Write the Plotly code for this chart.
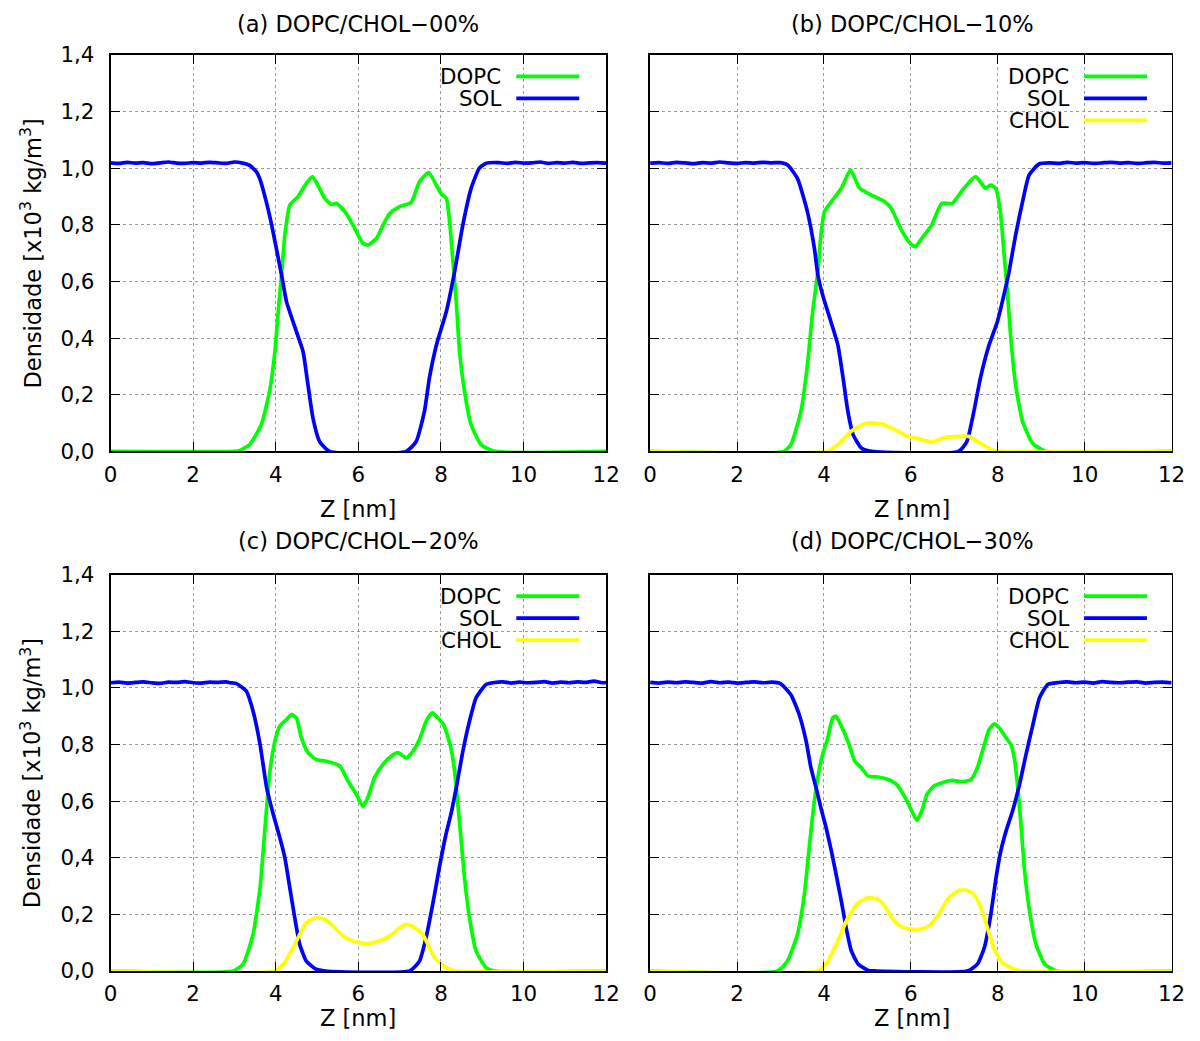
import plotly.graph_objects as go
from plotly.subplots import make_subplots

# ---------------- density profiles (Z in nm, density in 10^3 kg/m^3) ----------------
# (a) DOPC/CHOL-00%
Z_SOL_A = [0.0, 0.2, 0.4, 0.6, 0.8, 1.0, 1.2, 1.4, 1.6, 1.8, 2.0, 2.2, 2.4, 2.6, 2.8, 3.0, 3.2,
           3.37, 3.53, 3.61, 3.77, 3.90, 4.14, 4.26, 4.50, 4.66, 4.78, 4.90, 5.06, 5.30,
           7.16, 7.40, 7.60, 7.72, 7.89, 8.13, 8.33, 8.53, 8.73, 8.93, 9.10,
           9.4, 9.6, 9.8, 10.0, 10.2, 10.4, 10.6, 10.8, 11.0, 11.2, 11.4, 11.6, 11.8, 12.0]
SOL_A = [1.019, 1.017, 1.021, 1.018, 1.020, 1.016, 1.019, 1.022, 1.018, 1.017, 1.020, 1.018, 1.021, 1.019, 1.017, 1.022, 1.018,
         1.010, 0.988, 0.964, 0.882, 0.800, 0.623, 0.529, 0.423, 0.353, 0.235, 0.118, 0.035, 0.0,
         0.0, 0.035, 0.141, 0.259, 0.376, 0.494, 0.635, 0.800, 0.929, 1.000, 1.018,
         1.020, 1.017, 1.021, 1.018, 1.019, 1.022, 1.017, 1.020, 1.018, 1.021, 1.017, 1.019, 1.020, 1.018]
Z_DOPC_A = [0.0, 3.0, 3.13, 3.37, 3.65, 3.85, 3.98, 4.06, 4.14, 4.22, 4.34, 4.54, 4.74, 4.89, 5.02,
            5.19, 5.35, 5.47, 5.71, 5.91, 6.11, 6.23, 6.44, 6.60, 6.76, 7.0, 7.28, 7.48, 7.70, 7.89,
            8.0, 8.13, 8.21, 8.29, 8.37, 8.45, 8.57, 8.73, 8.97, 9.3, 12.0]
DOPC_A = [0.0, 0.0, 0.003, 0.024, 0.094, 0.212, 0.353, 0.494, 0.623, 0.764, 0.870, 0.900, 0.946, 0.970, 0.940,
          0.893, 0.872, 0.876, 0.840, 0.788, 0.735, 0.729, 0.752, 0.800, 0.840, 0.864, 0.880, 0.952, 0.985, 0.940,
          0.910, 0.893, 0.811, 0.670, 0.529, 0.353, 0.212, 0.094, 0.024, 0.0, 0.0]

# (b) DOPC/CHOL-10%
Z_SOL_B = [0.0, 0.2, 0.4, 0.6, 0.8, 1.0, 1.2, 1.4, 1.6, 1.8, 2.0, 2.2, 2.4, 2.6, 2.8, 3.0,
           3.16, 3.39, 3.62, 3.78, 3.86, 3.97, 4.16, 4.32, 4.44, 4.55, 4.67, 4.86, 5.10,
           7.10, 7.29, 7.45, 7.60, 7.80, 7.99, 8.14, 8.26, 8.41, 8.57, 8.72, 8.95,
           9.2, 9.4, 9.6, 9.8, 10.0, 10.2, 10.4, 10.6, 10.8, 11.0, 11.2, 11.4, 11.6, 11.8, 12.0]
SOL_B = [1.018, 1.020, 1.017, 1.021, 1.019, 1.016, 1.020, 1.018, 1.022, 1.019, 1.017, 1.020, 1.018, 1.021, 1.019, 1.020,
         1.012, 0.964, 0.846, 0.717, 0.623, 0.552, 0.458, 0.376, 0.259, 0.141, 0.059, 0.012, 0.0,
         0.0, 0.035, 0.141, 0.259, 0.376, 0.458, 0.552, 0.635, 0.764, 0.882, 0.976, 1.015,
         1.019, 1.017, 1.021, 1.018, 1.020, 1.017, 1.019, 1.021, 1.018, 1.020, 1.017, 1.019, 1.021, 1.018, 1.019]
Z_DOPC_B = [0.0, 3.08, 3.24, 3.47, 3.62, 3.74, 3.86, 3.93, 4.01, 4.20, 4.40, 4.61, 4.82, 5.09, 5.40,
            5.55, 5.78, 5.98, 6.10, 6.25, 6.48, 6.71, 6.95, 7.22, 7.49, 7.72, 7.83, 7.95, 8.06, 8.14,
            8.22, 8.30, 8.41, 8.57, 8.80, 9.10, 12.0]
DOPC_B = [0.0, 0.0, 0.024, 0.141, 0.306, 0.494, 0.635, 0.764, 0.846, 0.888, 0.929, 0.994, 0.929, 0.905, 0.882,
          0.858, 0.782, 0.735, 0.723, 0.752, 0.800, 0.876, 0.876, 0.929, 0.970, 0.929, 0.940, 0.929, 0.846, 0.705,
          0.564, 0.400, 0.235, 0.106, 0.029, 0.0, 0.0]
Z_CHOL_B = [0.0, 4.09, 4.32, 4.63, 4.98, 5.32, 5.63, 5.94, 6.17, 6.48, 6.79, 7.10, 7.33, 7.60, 7.87, 8.10, 12.0]
CHOL_B = [0.0, 0.0, 0.024, 0.071, 0.100, 0.097, 0.077, 0.053, 0.045, 0.033, 0.049, 0.053, 0.053, 0.029, 0.005, 0.0, 0.0]

# (c) DOPC/CHOL-20%
Z_SOL_C = [0.0, 0.2, 0.4, 0.6, 0.8, 1.0, 1.2, 1.4, 1.6, 1.8, 2.0, 2.2, 2.4, 2.6, 2.8, 2.9,
           3.05, 3.29, 3.45, 3.62, 3.78, 3.94, 4.10, 4.22, 4.34, 4.46, 4.58, 4.74, 4.98, 5.20,
           7.24, 7.48, 7.64, 7.80, 7.96, 8.12, 8.24, 8.37, 8.53, 8.69, 8.85, 9.09,
           9.3, 9.5, 9.7, 9.9, 10.1, 10.3, 10.5, 10.7, 10.9, 11.1, 11.3, 11.5, 11.7, 11.9, 12.0]
SOL_C = [1.018, 1.020, 1.017, 1.019, 1.021, 1.018, 1.016, 1.020, 1.019, 1.022, 1.018, 1.017, 1.020, 1.019, 1.021, 1.018,
         1.015, 0.988, 0.918, 0.800, 0.647, 0.553, 0.471, 0.400, 0.294, 0.188, 0.094, 0.035, 0.006, 0.0,
         0.0, 0.035, 0.118, 0.235, 0.365, 0.482, 0.553, 0.647, 0.776, 0.882, 0.965, 1.012,
         1.019, 1.021, 1.017, 1.020, 1.018, 1.019, 1.022, 1.017, 1.020, 1.018, 1.021, 1.019, 1.024, 1.018, 1.019]
Z_DOPC_C = [0.0, 2.97, 3.21, 3.45, 3.62, 3.74, 3.86, 3.98, 4.10, 4.26, 4.38, 4.50, 4.62, 4.78, 4.98,
            5.23, 5.55, 5.75, 5.95, 6.11, 6.23, 6.39, 6.59, 6.80, 6.96, 7.16, 7.32, 7.48, 7.64, 7.79,
            7.92, 8.08, 8.24, 8.33, 8.41, 8.49, 8.57, 8.69, 8.85, 9.09, 9.30, 12.0]
DOPC_C = [0.0, 0.0, 0.024, 0.129, 0.294, 0.506, 0.706, 0.812, 0.865, 0.888, 0.906, 0.894, 0.824, 0.771, 0.747,
          0.741, 0.724, 0.671, 0.624, 0.582, 0.612, 0.682, 0.729, 0.759, 0.771, 0.753, 0.776, 0.818, 0.882, 0.912,
          0.894, 0.865, 0.788, 0.706, 0.588, 0.459, 0.329, 0.188, 0.071, 0.012, 0.0, 0.0]
Z_CHOL_C = [0.0, 3.98, 4.18, 4.42, 4.58, 4.74, 4.98, 5.19, 5.39, 5.63, 5.88, 6.19, 6.51, 6.76, 7.00,
            7.16, 7.36, 7.56, 7.72, 7.88, 8.12, 8.37, 12.0]
CHOL_C = [0.0, 0.0, 0.024, 0.082, 0.129, 0.171, 0.188, 0.182, 0.159, 0.124, 0.106, 0.096, 0.106, 0.124, 0.153,
          0.165, 0.153, 0.129, 0.082, 0.041, 0.012, 0.0, 0.0]

# (d) DOPC/CHOL-30%
Z_SOL_D = [0.0, 0.2, 0.4, 0.6, 0.8, 1.0, 1.2, 1.4, 1.6, 1.8, 2.0, 2.2, 2.4, 2.6, 2.8,
           3.00, 3.24, 3.43, 3.59, 3.70, 3.82, 3.93, 4.05, 4.17, 4.28, 4.40, 4.51, 4.63, 4.79, 5.02, 5.20,
           7.30, 7.53, 7.69, 7.84, 7.96, 8.07, 8.19, 8.34, 8.50, 8.65, 8.81, 8.96, 9.15,
           9.4, 9.6, 9.8, 10.0, 10.2, 10.4, 10.6, 10.8, 11.0, 11.2, 11.4, 11.6, 11.8, 12.0]
SOL_D = [1.019, 1.017, 1.020, 1.018, 1.021, 1.019, 1.017, 1.022, 1.018, 1.020, 1.017, 1.019, 1.021, 1.018, 1.020,
         1.015, 0.976, 0.906, 0.812, 0.718, 0.647, 0.576, 0.506, 0.424, 0.341, 0.247, 0.153, 0.071, 0.024, 0.002, 0.0,
         0.0, 0.024, 0.082, 0.200, 0.329, 0.424, 0.494, 0.565, 0.659, 0.765, 0.871, 0.965, 1.012,
         1.019, 1.021, 1.018, 1.020, 1.017, 1.022, 1.019, 1.018, 1.020, 1.021, 1.017, 1.019, 1.020, 1.018]
Z_DOPC_D = [0.0, 2.93, 3.16, 3.39, 3.55, 3.66, 3.78, 3.90, 3.97, 4.09, 4.20, 4.28, 4.40, 4.55, 4.71,
            4.86, 5.02, 5.25, 5.48, 5.67, 5.87, 6.02, 6.14, 6.25, 6.37, 6.53, 6.72, 6.95, 7.18, 7.38,
            7.53, 7.69, 7.80, 7.92, 8.03, 8.19, 8.30, 8.38, 8.46, 8.54, 8.61, 8.73, 8.88, 9.08, 9.35, 12.0]
DOPC_D = [0.0, 0.0, 0.035, 0.129, 0.271, 0.435, 0.600, 0.718, 0.765, 0.824, 0.894, 0.900, 0.865, 0.812, 0.741,
          0.718, 0.688, 0.685, 0.676, 0.659, 0.612, 0.565, 0.532, 0.565, 0.624, 0.653, 0.665, 0.673, 0.668, 0.676,
          0.718, 0.800, 0.853, 0.873, 0.859, 0.824, 0.800, 0.753, 0.647, 0.506, 0.365, 0.212, 0.094, 0.024, 0.0, 0.0]
Z_CHOL_D = [0.0, 3.86, 4.09, 4.32, 4.55, 4.79, 5.02, 5.25, 5.40, 5.56, 5.75, 5.98, 6.18, 6.41, 6.64,
            6.87, 7.11, 7.30, 7.45, 7.61, 7.76, 7.92, 8.11, 8.34, 8.60, 12.0]
CHOL_D = [0.0, 0.0, 0.035, 0.106, 0.188, 0.241, 0.259, 0.253, 0.229, 0.188, 0.159, 0.149, 0.147, 0.159, 0.200,
          0.259, 0.285, 0.285, 0.271, 0.224, 0.153, 0.076, 0.029, 0.009, 0.0, 0.0]

PANEL_TITLES = ["(a) DOPC/CHOL\u221200%", "(b) DOPC/CHOL\u221210%",
                "(c) DOPC/CHOL\u221220%", "(d) DOPC/CHOL\u221230%"]
X_TICKS = [0, 2, 4, 6, 8, 10, 12]
Y_TICKS = [0.0, 0.2, 0.4, 0.6, 0.8, 1.0, 1.2, 1.4]
X_TITLE = "Z [nm]"
Y_TITLE = "Densidade [x10<sup>3</sup> kg/m<sup>3</sup>]"

COLORS = {"DOPC": "#00ff00", "SOL": "#0000ff", "CHOL": "#ffff00"}

PANELS = [
    [("DOPC", Z_DOPC_A, DOPC_A), ("SOL", Z_SOL_A, SOL_A)],
    [("DOPC", Z_DOPC_B, DOPC_B), ("SOL", Z_SOL_B, SOL_B), ("CHOL", Z_CHOL_B, CHOL_B)],
    [("DOPC", Z_DOPC_C, DOPC_C), ("SOL", Z_SOL_C, SOL_C), ("CHOL", Z_CHOL_C, CHOL_C)],
    [("DOPC", Z_DOPC_D, DOPC_D), ("SOL", Z_SOL_D, SOL_D), ("CHOL", Z_CHOL_D, CHOL_D)],
]

W, H = 1200, 1041
FONT = "DejaVu Sans"
FS_TICK = 21.4
FS_TITLE = 22.5
LW = 3.7

# page layout in pixels: plot boxes (left, right, top, bottom), key right edges,
# panel-title and x-label heights; panels ordered (a), (b), (c), (d)
BOXES = [(110.3, 606.7, 53.3, 450.0), (650.7, 1173.0, 53.3, 450.0),
         (110.3, 606.7, 573.3, 970.0), (650.7, 1173.0, 573.3, 970.0)]
KEY_RIGHT = [606.7, 1175.3, 606.7, 1175.3]
TITLE_Y = [22.0, 22.0, 540.0, 540.0]
XLABEL_Y = [508.0, 508.0, 1017.0, 1017.0]

# inset/scale of the drawing area used to turn page pixels into paper fractions
SX, OX = 0.984, 6.6
SY, OY = 0.9767, 11.3


def px(x):
    return ((x - OX) / SX) / W


def py(y):
    return 1 - ((y - OY) / SY) / H


fig = make_subplots(rows=2, cols=2)

for i, series in enumerate(PANELS):
    r, c = i // 2 + 1, i % 2 + 1
    for name, zs, vals in series:
        fig.add_trace(go.Scatter(x=zs, y=vals, mode="lines", name=name, showlegend=False,
                                 line=dict(color=COLORS[name], width=LW, shape="spline", smoothing=0.5)),
                      row=r, col=c)

annotations = []
shapes = []
for i, (l, rgt, t, b) in enumerate(BOXES):
    sfx = "" if i == 0 else str(i + 1)
    fig.layout["xaxis" + sfx].update(
        domain=[px(l), px(rgt)], range=[0, 12], tickvals=X_TICKS, ticks="inside", ticklen=9,
        tickwidth=1, tickcolor="black", mirror="ticks", showline=True, linecolor="black",
        linewidth=1.8, showgrid=True, gridcolor="#9a9a9a", griddash="dot", gridwidth=1,
        zeroline=False, tickfont=dict(family=FONT, size=FS_TICK, color="black"),
        ticklabelstandoff=3)
    fig.layout["yaxis" + sfx].update(
        domain=[py(b), py(t)], range=[0, 1.4], tickvals=Y_TICKS, tickformat=".1f",
        ticks="inside", ticklen=9, tickwidth=1, tickcolor="black", mirror="ticks",
        showline=True, linecolor="black", linewidth=1.8, showgrid=True, gridcolor="#9a9a9a",
        griddash="dot", gridwidth=1, zeroline=False, showticklabels=(i % 2 == 0),
        tickfont=dict(family=FONT, size=FS_TICK, color="black"), ticklabelstandoff=10)

    cx = (l + KEY_RIGHT[i]) / 2
    annotations.append(dict(text=PANEL_TITLES[i], x=px(cx), y=py(TITLE_Y[i]), xref="paper", yref="paper",
                            xanchor="center", yanchor="middle", showarrow=False,
                            font=dict(family=FONT, size=FS_TITLE, color="black")))
    annotations.append(dict(text=X_TITLE, x=px(cx), y=py(XLABEL_Y[i]), xref="paper", yref="paper",
                            xanchor="center", yanchor="middle", showarrow=False,
                            font=dict(family=FONT, size=FS_TITLE, color="black")))
    if i % 2 == 0:
        annotations.append(dict(text=Y_TITLE, x=px(30), y=py((t + b) / 2), xref="paper", yref="paper",
                                xanchor="center", yanchor="middle", showarrow=False, textangle=-90,
                                font=dict(family=FONT, size=FS_TITLE, color="black")))

    # key: label to the left of a short line sample, top-right corner
    kr = KEY_RIGHT[i]
    for k, (name, _, _) in enumerate(PANELS[i]):
        yk = t + 21.5 + 22 * k
        annotations.append(dict(text=name, x=px(kr - 103), y=py(yk), xref="paper", yref="paper",
                                xanchor="right", yanchor="middle", showarrow=False,
                                font=dict(family=FONT, size=FS_TICK, color="black")))
        shapes.append(dict(type="line", xref="paper", yref="paper",
                           x0=px(kr - 90), x1=px(kr - 27), y0=py(yk), y1=py(yk),
                           line=dict(color=COLORS[name], width=LW)))

fig.update_layout(width=W, height=H, margin=dict(l=0, r=0, t=0, b=0),
                  paper_bgcolor="white", plot_bgcolor="white", separators=",.",
                  font=dict(family=FONT, size=FS_TICK, color="black"),
                  annotations=annotations, shapes=shapes, showlegend=False)

fig.write_html("out.html", config={"staticPlot": True, "displayModeBar": False})
